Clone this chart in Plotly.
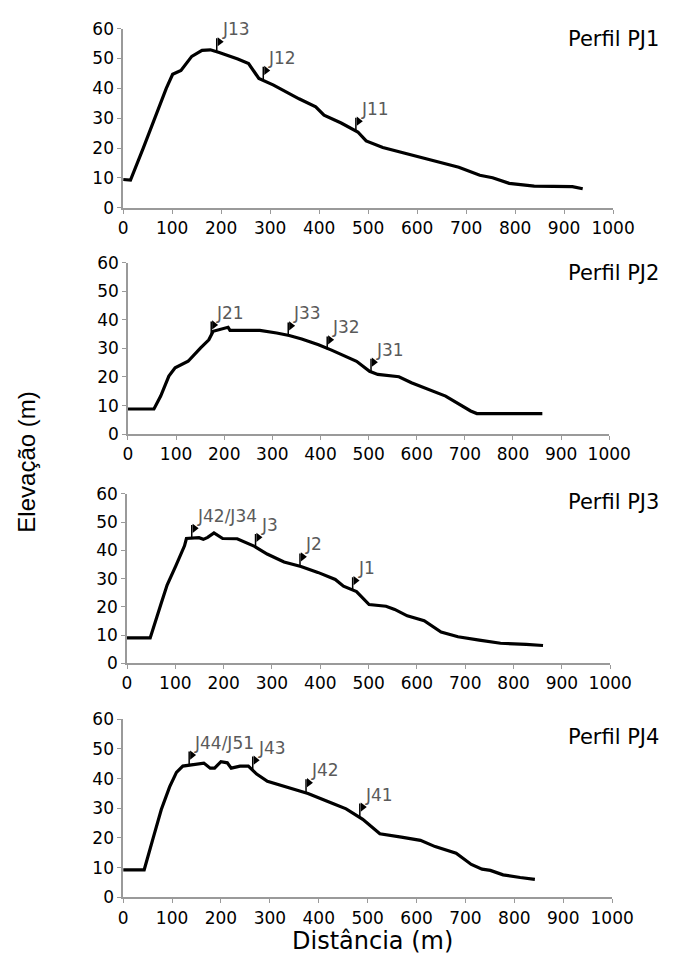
import plotly.graph_objects as go

# ---- data (distance m, elevation m) ----
pj1_dist = [0, 15, 41, 88, 101, 118, 140, 161, 178, 196, 234, 256, 277, 307, 359, 393, 410, 445, 479, 496, 530, 616, 685, 728, 754, 788, 839, 917, 938]
pj1_elev = [9.5, 9.3, 20, 40, 44.7, 46, 50.7, 52.7, 52.9, 52, 49.8, 48.3, 43.3, 41.1, 36.5, 33.8, 31, 28.4, 25.4, 22.4, 20.2, 16.4, 13.6, 10.9, 10.1, 8.2, 7.3, 7.1, 6.4]

pj2_dist = [0, 54, 68, 85, 98, 125, 151, 168, 177, 208, 212, 274, 309, 335, 361, 396, 423, 475, 502, 519, 563, 589, 660, 712, 725, 861]
pj2_elev = [8.8, 8.8, 13.3, 20.3, 23.2, 25.5, 30.2, 33, 36, 37.4, 36.3, 36.3, 35.4, 34.5, 33.3, 31.3, 29.4, 25.5, 22, 20.9, 20.1, 18, 13.3, 8.1, 7.2, 7.2]

pj3_dist = [0, 48, 70, 83, 101, 119, 123, 149, 158, 167, 180, 198, 228, 264, 290, 325, 360, 395, 431, 448, 475, 501, 536, 554, 580, 615, 650, 685, 729, 773, 826, 861]
pj3_elev = [9.0, 9.0, 20.8, 27.7, 34.5, 41.6, 44.2, 44.5, 43.9, 44.6, 46.2, 44.2, 44.1, 41.4, 38.7, 35.9, 34.3, 32.2, 29.7, 27.3, 25.4, 20.8, 20.2, 19.1, 16.8, 15.1, 11.1, 9.4, 8.2, 7.1, 6.7, 6.3]

pj4_dist = [0, 43, 61, 78, 95, 109, 122, 135, 156, 165, 178, 187, 200, 213, 221, 239, 256, 273, 295, 334, 378, 430, 456, 490, 525, 569, 608, 638, 681, 712, 734, 751, 777, 812, 842]
pj4_elev = [9.3, 9.3, 19.8, 29.6, 37.2, 42.1, 44.2, 44.5, 44.8, 45.2, 43.5, 43.5, 45.7, 45.3, 43.5, 44.2, 44.2, 41.5, 39.1, 37.2, 35, 31.5, 29.8, 26.3, 21.4, 20.3, 19.2, 17.1, 14.9, 11.1, 9.5, 9.1, 7.6, 6.7, 6.1]

# sampling points (flags)
pj1_flag_labels = ["J13", "J12", "J11"]
pj1_flag_dist = [191, 286, 475]
pj1_flag_elev = [52.2, 42.6, 25.6]

pj2_flag_labels = ["J21", "J33", "J32", "J31"]
pj2_flag_dist = [173, 333, 414, 505]
pj2_flag_elev = [34.8, 34.5, 29.6, 21.8]

pj3_flag_labels = ["J42/J34", "J3", "J2", "J1"]
pj3_flag_dist = [134, 266, 358, 467]
pj3_flag_elev = [44.4, 41.2, 34.3, 25.9]

pj4_flag_labels = ["J44/J51", "J43", "J42", "J41"]
pj4_flag_dist = [135, 265, 374, 484]
pj4_flag_elev = [44.5, 42.8, 35.2, 27.0]

panel_titles = ["Perfil PJ1", "Perfil PJ2", "Perfil PJ3", "Perfil PJ4"]
x_ticks = [0, 100, 200, 300, 400, 500, 600, 700, 800, 900, 1000]
y_ticks = [0, 10, 20, 30, 40, 50, 60]

profiles = [
    (pj1_dist, pj1_elev, pj1_flag_labels, pj1_flag_dist, pj1_flag_elev),
    (pj2_dist, pj2_elev, pj2_flag_labels, pj2_flag_dist, pj2_flag_elev),
    (pj3_dist, pj3_elev, pj3_flag_labels, pj3_flag_dist, pj3_flag_elev),
    (pj4_dist, pj4_elev, pj4_flag_labels, pj4_flag_dist, pj4_flag_elev),
]

W, H = 686, 975
# pixel boxes: (x0, x1, ytop, ybottom)
boxes = [(123, 633, 19, 202), (128, 629, 258, 433), (127, 630, 494, 667), (123, 632, 724, 906)]
title_y = [30, 268, 502, 742]

FLAG_H = 4.6
FONT = "DejaVu Sans"
AXIS_GREY = "#9a9a9a"

fig = go.Figure()
annotations = []
for i, (dist, elev, flabels, fdist, felev) in enumerate(profiles):
    n = "" if i == 0 else str(i + 1)
    xa, ya = "x" + n, "y" + n
    fig.add_trace(go.Scatter(x=dist, y=elev, mode="lines", xaxis=xa, yaxis=ya,
                             line=dict(color="black", width=3.2), showlegend=False, hoverinfo="skip"))
    # flag poles
    px, py = [], []
    for d, e in zip(fdist, felev):
        px += [d, d, None]
        py += [e, e + FLAG_H, None]
    fig.add_trace(go.Scatter(x=px, y=py, mode="lines", xaxis=xa, yaxis=ya,
                             line=dict(color="black", width=1.5), showlegend=False, hoverinfo="skip"))
    fig.add_trace(go.Scatter(x=[d + 6 for d in fdist], y=[e + FLAG_H - 1.2 for e in felev],
                             mode="markers", xaxis=xa, yaxis=ya,
                             marker=dict(symbol="triangle-right", size=8, color="black"),
                             showlegend=False, hoverinfo="skip"))
    for lab, d, e in zip(flabels, fdist, felev):
        annotations.append(dict(x=d, y=e + FLAG_H, xref=xa, yref=ya, text=lab, showarrow=False,
                                xanchor="left", yanchor="bottom", xshift=3, yshift=-3,
                                font=dict(family=FONT, size=17, color="#5a5a5a")))
    x0, x1, yt, yb = boxes[i]
    axis_common = dict(showline=True, linecolor=AXIS_GREY, linewidth=1.5, ticks="outside",
                       tickcolor=AXIS_GREY, ticklen=4, tickwidth=1.2, showgrid=False, zeroline=False,
                       tickfont=dict(family=FONT, size=17, color="black"))
    fig.update_layout(**{
        "xaxis" + n: dict(domain=[x0 / W, x1 / W], range=[0, 1000], tickvals=x_ticks,
                          anchor=ya, **axis_common),
        "yaxis" + n: dict(domain=[1 - yb / H, 1 - yt / H], range=[0, 60], tickvals=y_ticks,
                          anchor=xa, **axis_common),
    })
    annotations.append(dict(x=683 / W, y=1 - title_y[i] / H, xref="paper", yref="paper",
                            text=panel_titles[i], showarrow=False, xanchor="right", yanchor="middle",
                            font=dict(family=FONT, size=21, color="black")))

annotations.append(dict(x=383 / W, y=1 - 950 / H, xref="paper", yref="paper", text="Distância (m)",
                        showarrow=False, xanchor="center", yanchor="middle",
                        font=dict(family=FONT, size=24, color="black")))
annotations.append(dict(x=22 / W, y=1 - 462 / H, xref="paper", yref="paper", text="Elevação (m)",
                        showarrow=False, xanchor="center", yanchor="middle", textangle=-90,
                        font=dict(family="Liberation Sans", size=24, color="black")))

fig.update_layout(width=W, height=H, margin=dict(l=0, r=0, t=0, b=0),
                  paper_bgcolor="white", plot_bgcolor="white", annotations=annotations)

fig.write_html("out.html")
